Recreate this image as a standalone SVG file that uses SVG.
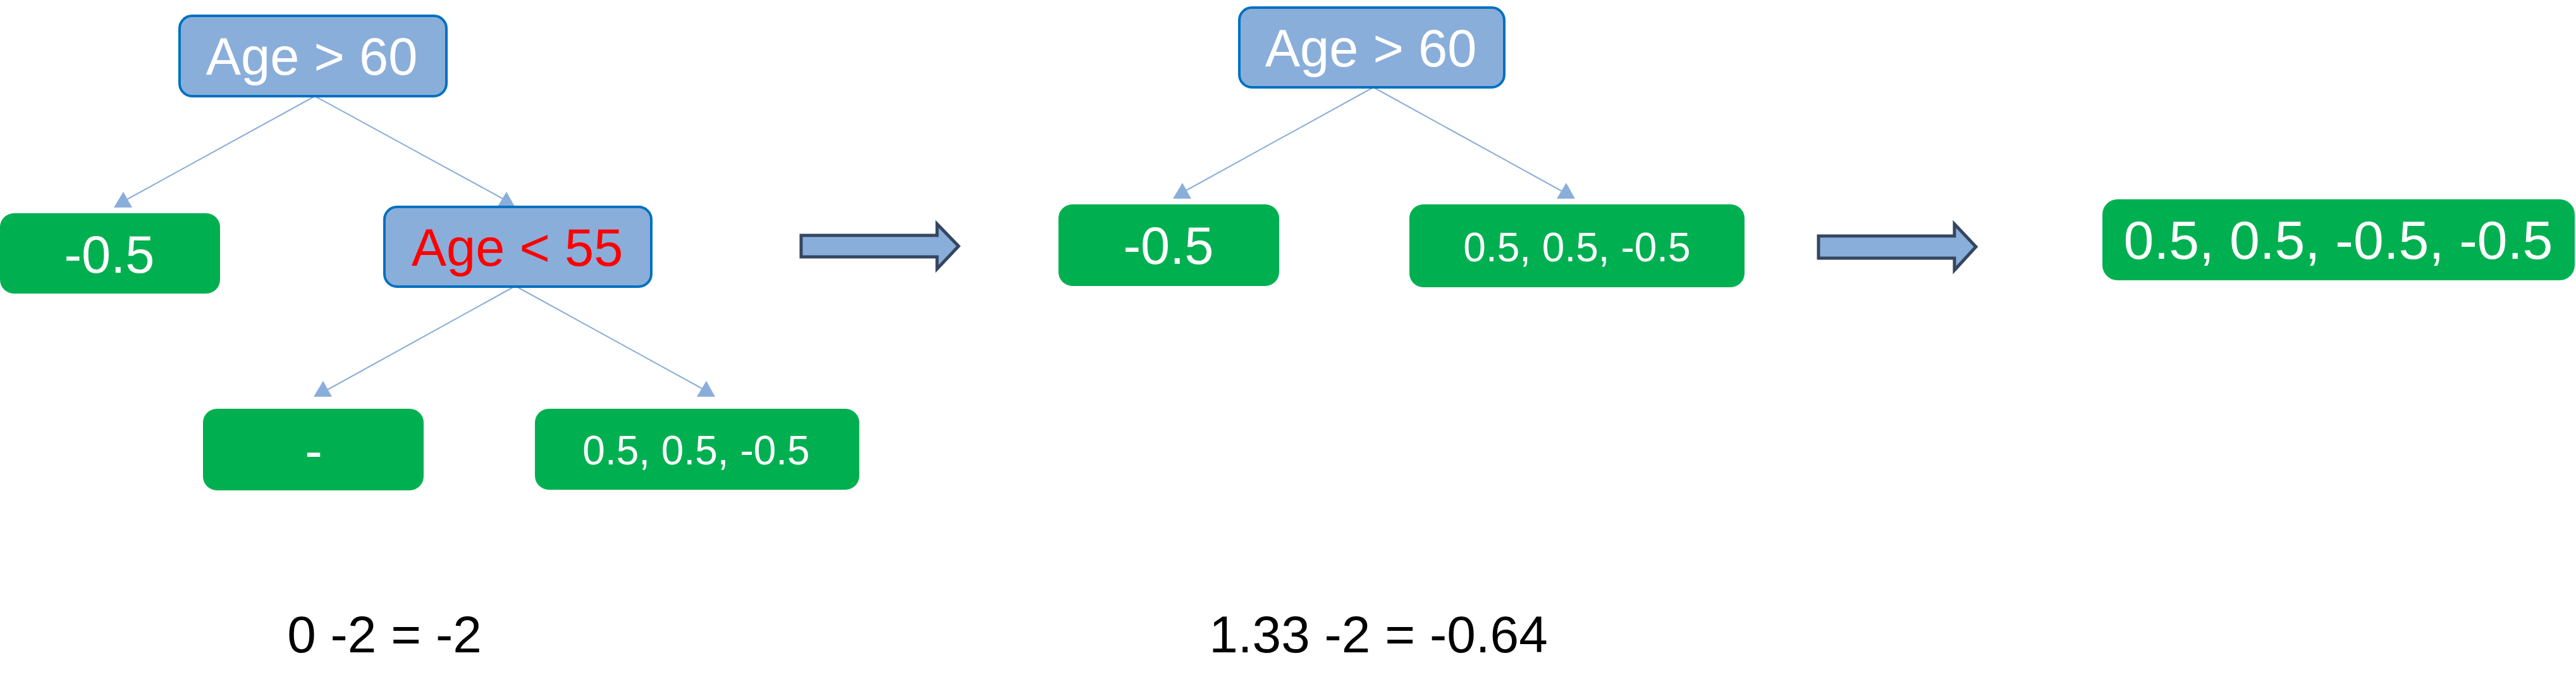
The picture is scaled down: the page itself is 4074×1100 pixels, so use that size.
<svg xmlns="http://www.w3.org/2000/svg" width="4074" height="1100" viewBox="0 0 4074 1100">
<style>
.dec{fill:#8AAEDA;stroke:#0070C0;stroke-width:4}
.leaf{fill:#00B050}
.t{font-family:"Liberation Sans",Arial,sans-serif;font-size:83px;fill:#ffffff;text-anchor:middle}
.s{font-size:64px}
.red{fill:#FF0000}
.blk{font-family:"Liberation Sans",Arial,sans-serif;font-size:82px;fill:#000000;text-anchor:middle}
.ln{stroke:#8AAEDA;stroke-width:2;fill:none}
.ah{fill:#8AAEDA}
.barrow{fill:#8AAEDA;stroke:#35465F;stroke-width:5}
</style>
<defs>
<path id="head" d="M0,0 L14,25 L-15,25 Z"/>
</defs>
<g id="connectors">
<line class="ln" x1="498" y1="152" x2="201" y2="315"/>
<use href="#head" class="ah" x="195" y="303"/>
<line class="ln" x1="498" y1="152" x2="797" y2="315"/>
<use href="#head" class="ah" x="801" y="303"/>
<line class="ln" x1="815" y1="452" x2="516" y2="617"/>
<use href="#head" class="ah" x="511" y="602"/>
<line class="ln" x1="815" y1="452" x2="1112" y2="615"/>
<use href="#head" class="ah" x="1117" y="602"/>
<line class="ln" x1="2172" y1="138" x2="1874" y2="302"/>
<use href="#head" class="ah" x="1870" y="289"/>
<line class="ln" x1="2172" y1="138" x2="2470" y2="302"/>
<use href="#head" class="ah" x="2477" y="289"/>
</g>
<g id="n1">
<rect class="dec" x="284" y="25" width="422" height="127" rx="20"/>
<text class="t" x="493" y="118">Age &gt; 60</text>
</g>
<g id="n2">
<rect class="leaf" x="0" y="337" width="348" height="127" rx="22"/>
<text class="t" x="173" y="431">-0.5</text>
</g>
<g id="n3">
<rect class="dec" x="608" y="327" width="422" height="126" rx="20"/>
<text class="t red" x="818" y="420">Age &lt; 55</text>
</g>
<g id="n4">
<rect class="leaf" x="321" y="646" width="349" height="129" rx="22"/>
<text class="t" x="496" y="741">-</text>
</g>
<g id="n5">
<rect class="leaf" x="846" y="646" width="513" height="128" rx="22"/>
<text class="t s" x="1101" y="734">0.5, 0.5, -0.5</text>
</g>
<g id="arrow1">
<path class="barrow" d="M1267,372 L1482,372 L1482,354 L1516,389 L1482,425 L1482,406 L1267,406 Z"/>
</g>
<g id="n6">
<rect class="dec" x="1960" y="12" width="419" height="126" rx="20"/>
<text class="t" x="2168" y="105">Age &gt; 60</text>
</g>
<g id="n7">
<rect class="leaf" x="1674" y="323" width="349" height="129" rx="22"/>
<text class="t" x="1848" y="417">-0.5</text>
</g>
<g id="n8">
<rect class="leaf" x="2229" y="323" width="530" height="131" rx="22"/>
<text class="t s" x="2494" y="413">0.5, 0.5, -0.5</text>
</g>
<g id="arrow2">
<path class="barrow" d="M2876,373 L3091,373 L3091,354 L3125,390 L3091,427 L3091,408 L2876,408 Z"/>
</g>
<g id="n9">
<rect class="leaf" x="3325" y="315" width="747" height="128" rx="24"/>
<text class="t" x="3698" y="409" style="font-size:86px">0.5, 0.5, -0.5, -0.5</text>
</g>
<g id="labels">
<text class="blk" x="608" y="1031">0 -2 = -2</text>
<text class="blk" x="2180" y="1031">1.33 -2 = -0.64</text>
</g>
</svg>
